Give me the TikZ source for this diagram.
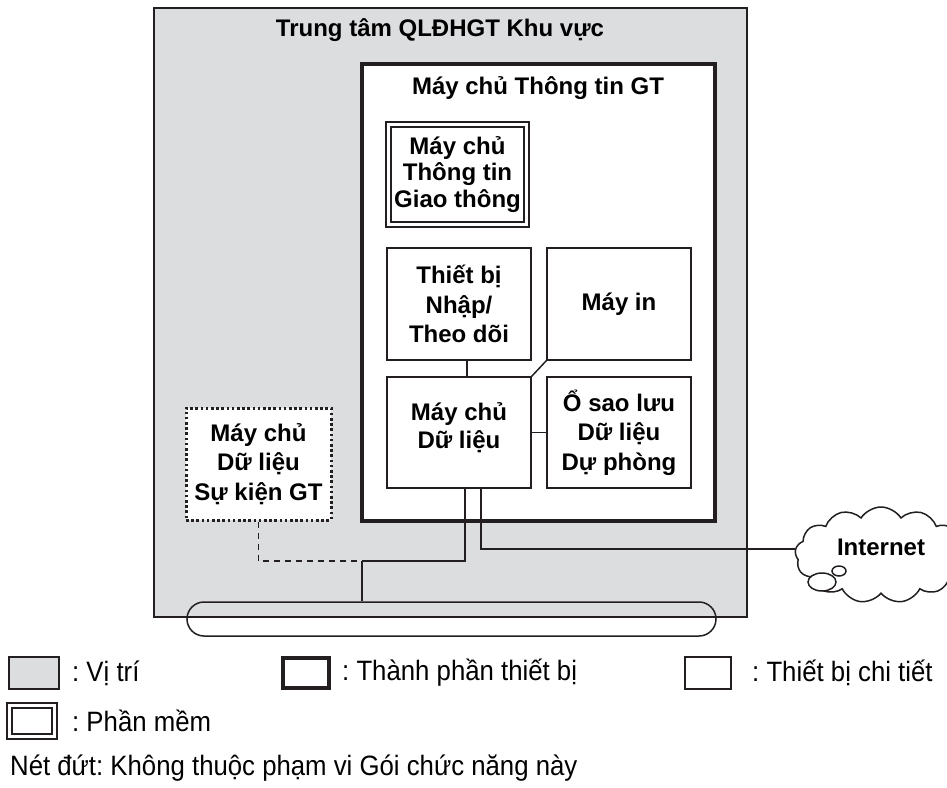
\documentclass[tikz,border=0pt]{standalone}
\usepackage{fontspec}
\setmainfont{Liberation Sans}
\newfontfamily\legfont[FakeStretch=0.92]{Liberation Sans}
\usetikzlibrary{shapes.symbols}
\definecolor{siteGray}{HTML}{DCDDDF}
\definecolor{ink}{HTML}{231F20}
\frenchspacing
\tikzset{
  lbl/.style={font=\fontsize{24}{28}\selectfont\bfseries, align=center, inner sep=0pt},
  wide/.style={font=\fontsize{24}{29.5}\selectfont\bfseries},
  legtext/.style={font=\legfont\fontsize{28}{30}\selectfont, anchor=west, inner sep=0pt},
  site/.style={draw=ink, fill=siteGray, line width=2pt, inner sep=0pt},
  equip/.style={draw=ink, fill=white, line width=3.5pt, inner sep=0pt},
  detail/.style={lbl, draw=ink, fill=white, line width=1.5pt},
  soft/.style={lbl, draw=ink, fill=white, line width=1.3pt, double=white, double distance=3.5pt},
  outscope/.style={lbl, draw=ink, fill=white, line width=3pt, dash pattern=on 2.6pt off 2.6pt},
  link/.style={draw=ink, line width=1.5pt},
  dashlink/.style={draw=ink, line width=1.5pt, dash pattern=on 6pt off 5pt},
}
\begin{document}
\begin{tikzpicture}[x=1pt,y=-1pt]
\useasboundingbox (0,0) rectangle (947,787);
% site
\node[site, minimum width=593pt, minimum height=609pt] (site) at (450.5,312.5) {};
\node[lbl] (sitetitle) at (440,30) {Trung tâm QLĐHGT Khu vực};
% equipment
\node[equip, minimum width=353pt, minimum height=457pt] (srv) at (538.5,292.5) {};
\node[lbl] (srvtitle) at (538,88) {Máy chủ Thông tin GT};
% software
\node[soft, font=\fontsize{24}{26.5}\selectfont\bfseries, minimum width=138pt, minimum height=100pt] (sw) at (457.5,174.5) {Máy chủ\\Thông tin\\Giao thông};
% details
\node[detail, wide, minimum width=144pt, minimum height=112pt] (dev) at (459,304) {Thiết bị\\Nhập/\\Theo dõi};
\node[detail, minimum width=144pt, minimum height=112pt] (printer) at (619,304) {Máy in};
\node[detail, minimum width=144pt, minimum height=111pt] (db) at (459,432.5) {Máy chủ\\Dữ liệu\\[-14pt]};
\node[detail, wide, minimum width=144pt, minimum height=111pt] (backup) at (619,432.5) {Ổ sao lưu\\Dữ liệu\\Dự phòng};
% out of scope
\node[outscope, wide, minimum width=145pt, minimum height=112pt] (ev) at (258.5,464) {Máy chủ\\Dữ liệu\\Sự kiện GT};
% bus
\node[draw=ink, line width=1.5pt, rounded corners=17pt, minimum width=529pt, minimum height=34pt, inner sep=0pt] (bus) at (451.5,619) {};
% cloud
\node[cloud, draw=ink, fill=white, line width=1.5pt, cloud puffs=13, cloud puff arc=115, aspect=1.8, minimum width=172pt, minimum height=96pt, lbl] (net) at (881,555) {Internet\\[-12pt]};
\draw[ink, line width=1.5pt, fill=white] (822,582) ellipse [x radius=14, y radius=9];
\draw[ink, line width=1.5pt, fill=white] (839,571) ellipse [x radius=7, y radius=5];
% connectors
\draw[link] ([xshift=8pt]dev.south) -- ([xshift=8pt]db.north);
\draw[link] (db.north east) -- (printer.south west);
\draw[link] (db.east) -- (backup.west);
\coordinate (j) at (362,561);
\draw[link] ([xshift=6pt]db.south) |- (j);
\draw[link] (j) -- (j |- bus.north);
\draw[dashlink] (ev.south) |- (j);
\draw[link] ([xshift=22pt]db.south) |- ([yshift=6pt]net.west);
% legend
\node[draw=ink, fill=siteGray, line width=1.5pt, minimum width=50pt, minimum height=32pt, inner sep=0pt] (lgsite) at (34,673) {};
\node[legtext] (lgsitet) at (72,673) {: Vị trí};
\node[draw=ink, fill=white, line width=3.5pt, minimum width=46pt, minimum height=30pt, inner sep=0pt] (lgequip) at (306,673) {};
\node[legtext] (lgequipt) at (342,673) {: Thành phần thiết bị};
\node[draw=ink, fill=white, line width=1.5pt, minimum width=46pt, minimum height=32pt, inner sep=0pt] (lgdet) at (708,673) {};
\node[legtext] (lgdett) at (752,673) {: Thiết bị chi tiết};
\node[draw=ink, fill=white, line width=1.3pt, double=white, double distance=3.5pt, minimum width=45pt, minimum height=31pt, inner sep=0pt] (lgsoft) at (32,721) {};
\node[legtext] (lgsoftt) at (72,721) {: Phần mềm};
\node[legtext] (note) at (10,768) {Nét đứt: Không thuộc phạm vi Gói chức năng này};
\end{tikzpicture}
\end{document}
